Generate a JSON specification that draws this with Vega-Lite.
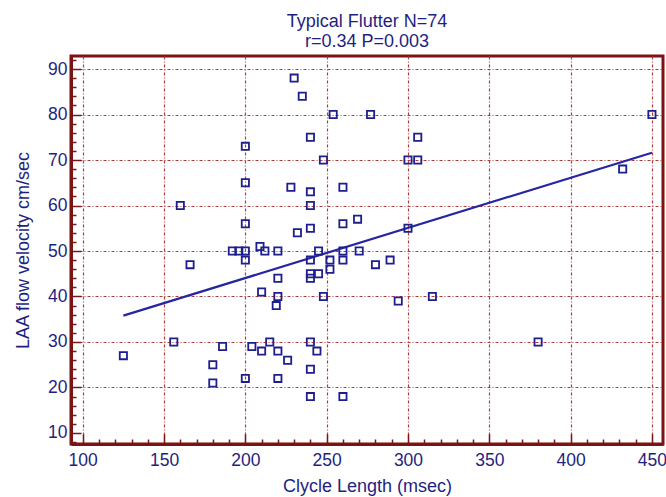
{
  "$schema": "https://vega.github.io/schema/vega-lite/v6.json",
  "width": 592,
  "height": 388,
  "autosize": {"type": "none"},
  "padding": {"left": 71, "top": 56, "right": 3, "bottom": 53},
  "background": "white",
  "title": {
    "text": ["Typical Flutter N=74", "r=0.34 P=0.003"],
    "anchor": "middle",
    "frame": "group",
    "font": "Liberation Sans",
    "fontSize": 18,
    "fontWeight": "normal",
    "color": "#1f1f80",
    "lineHeight": 20,
    "offset": 0
  },
  "config": {
    "view": {"stroke": "#7a1414", "strokeWidth": 3},
    "axis": {
      "labelFont": "Liberation Sans",
      "labelFontSize": 17.5,
      "labelColor": "#1f1f80",
      "titleFont": "Liberation Sans",
      "titleFontSize": 18,
      "titleFontWeight": "normal",
      "titleColor": "#1f1f80",
      "domainColor": "#7a1414",
      "domainWidth": 3,
      "tickColor": "#7a1414",
      "tickWidth": 1.5,
      "gridColor": "#b03a3a",
      "gridWidth": 1.2,
      "gridDash": [3, 2, 1, 2],
      "labelOverlap": false,
      "labelFlush": false
    }
  },
  "datasets": {
    "points": [
      {"x": 125, "y": 27}, {"x": 156, "y": 30}, {"x": 160, "y": 60}, {"x": 166, "y": 47},
      {"x": 180, "y": 25}, {"x": 180, "y": 21}, {"x": 186, "y": 29}, {"x": 192, "y": 50},
      {"x": 196, "y": 50}, {"x": 200, "y": 50}, {"x": 200, "y": 48}, {"x": 200, "y": 73},
      {"x": 200, "y": 65}, {"x": 200, "y": 56}, {"x": 200, "y": 22}, {"x": 204, "y": 29},
      {"x": 209, "y": 51}, {"x": 210, "y": 41}, {"x": 210, "y": 28}, {"x": 212, "y": 50},
      {"x": 215, "y": 30}, {"x": 220, "y": 50}, {"x": 220, "y": 44}, {"x": 220, "y": 40},
      {"x": 219, "y": 38}, {"x": 220, "y": 28}, {"x": 220, "y": 22}, {"x": 226, "y": 26},
      {"x": 228, "y": 64}, {"x": 230, "y": 88}, {"x": 232, "y": 54}, {"x": 235, "y": 84},
      {"x": 240, "y": 75}, {"x": 240, "y": 63}, {"x": 240, "y": 60}, {"x": 240, "y": 55},
      {"x": 240, "y": 48}, {"x": 240, "y": 45}, {"x": 240, "y": 44}, {"x": 240, "y": 30},
      {"x": 240, "y": 24}, {"x": 240, "y": 18}, {"x": 244, "y": 28}, {"x": 245, "y": 50},
      {"x": 245, "y": 45}, {"x": 248, "y": 70}, {"x": 248, "y": 40}, {"x": 252, "y": 48},
      {"x": 252, "y": 46}, {"x": 254, "y": 80}, {"x": 260, "y": 64}, {"x": 260, "y": 56},
      {"x": 260, "y": 50}, {"x": 260, "y": 48}, {"x": 260, "y": 18}, {"x": 269, "y": 57},
      {"x": 270, "y": 50}, {"x": 277, "y": 80}, {"x": 280, "y": 47}, {"x": 289, "y": 48},
      {"x": 294, "y": 39}, {"x": 300, "y": 70}, {"x": 300, "y": 55}, {"x": 306, "y": 75},
      {"x": 306, "y": 70}, {"x": 315, "y": 40}, {"x": 380, "y": 30}, {"x": 432, "y": 68},
      {"x": 450, "y": 80}
    ],
    "fit": [
      {"x": 125, "y": 35.8},
      {"x": 450, "y": 71.6}
    ]
  },
  "encoding": {
    "x": {
      "field": "x",
      "type": "quantitative",
      "scale": {"domain": [92.8, 456.8], "nice": false, "zero": false},
      "axis": {
        "title": "Clycle Length (msec)",
        "values": [100, 110, 120, 130, 140, 150, 160, 170, 180, 190, 200, 210, 220, 230, 240, 250, 260, 270, 280, 290, 300, 310, 320, 330, 340, 350, 360, 370, 380, 390, 400, 410, 420, 430, 440, 450],
        "labelExpr": "datum.value % 50 === 0 ? datum.label : ''",
        "tickSize": {"condition": {"test": "datum.value % 50 === 0", "value": -10}, "value": -5},
        "gridOpacity": {"condition": {"test": "datum.value % 50 === 0", "value": 1}, "value": 0},
        "labelPadding": 17,
        "titlePadding": 4
      }
    },
    "y": {
      "field": "y",
      "type": "quantitative",
      "scale": {"domain": [7.58, 92.86], "nice": false, "zero": false},
      "axis": {
        "title": "LAA flow velocity cm/sec",
        "values": [8, 10, 12, 14, 16, 18, 20, 22, 24, 26, 28, 30, 32, 34, 36, 38, 40, 42, 44, 46, 48, 50, 52, 54, 56, 58, 60, 62, 64, 66, 68, 70, 72, 74, 76, 78, 80, 82, 84, 86, 88, 90, 92],
        "labelExpr": "datum.value % 10 === 0 ? datum.label : ''",
        "tickSize": {"condition": {"test": "datum.value % 10 === 0", "value": -10}, "value": -5},
        "gridOpacity": {"condition": {"test": "datum.value % 10 === 0 && datum.value > 10", "value": 1}, "value": 0},
        "labelPadding": 14,
        "titlePadding": 15
      }
    }
  },
  "layer": [
    {
      "data": {"name": "fit"},
      "mark": {"type": "line", "color": "#2626a0", "strokeWidth": 2.2},
      "encoding": {}
    },
    {
      "data": {"name": "points"},
      "mark": {"type": "point", "shape": "square", "filled": false, "color": "#1e1e8c", "size": 52, "strokeWidth": 1.8, "opacity": 1}
    }
  ]
}
